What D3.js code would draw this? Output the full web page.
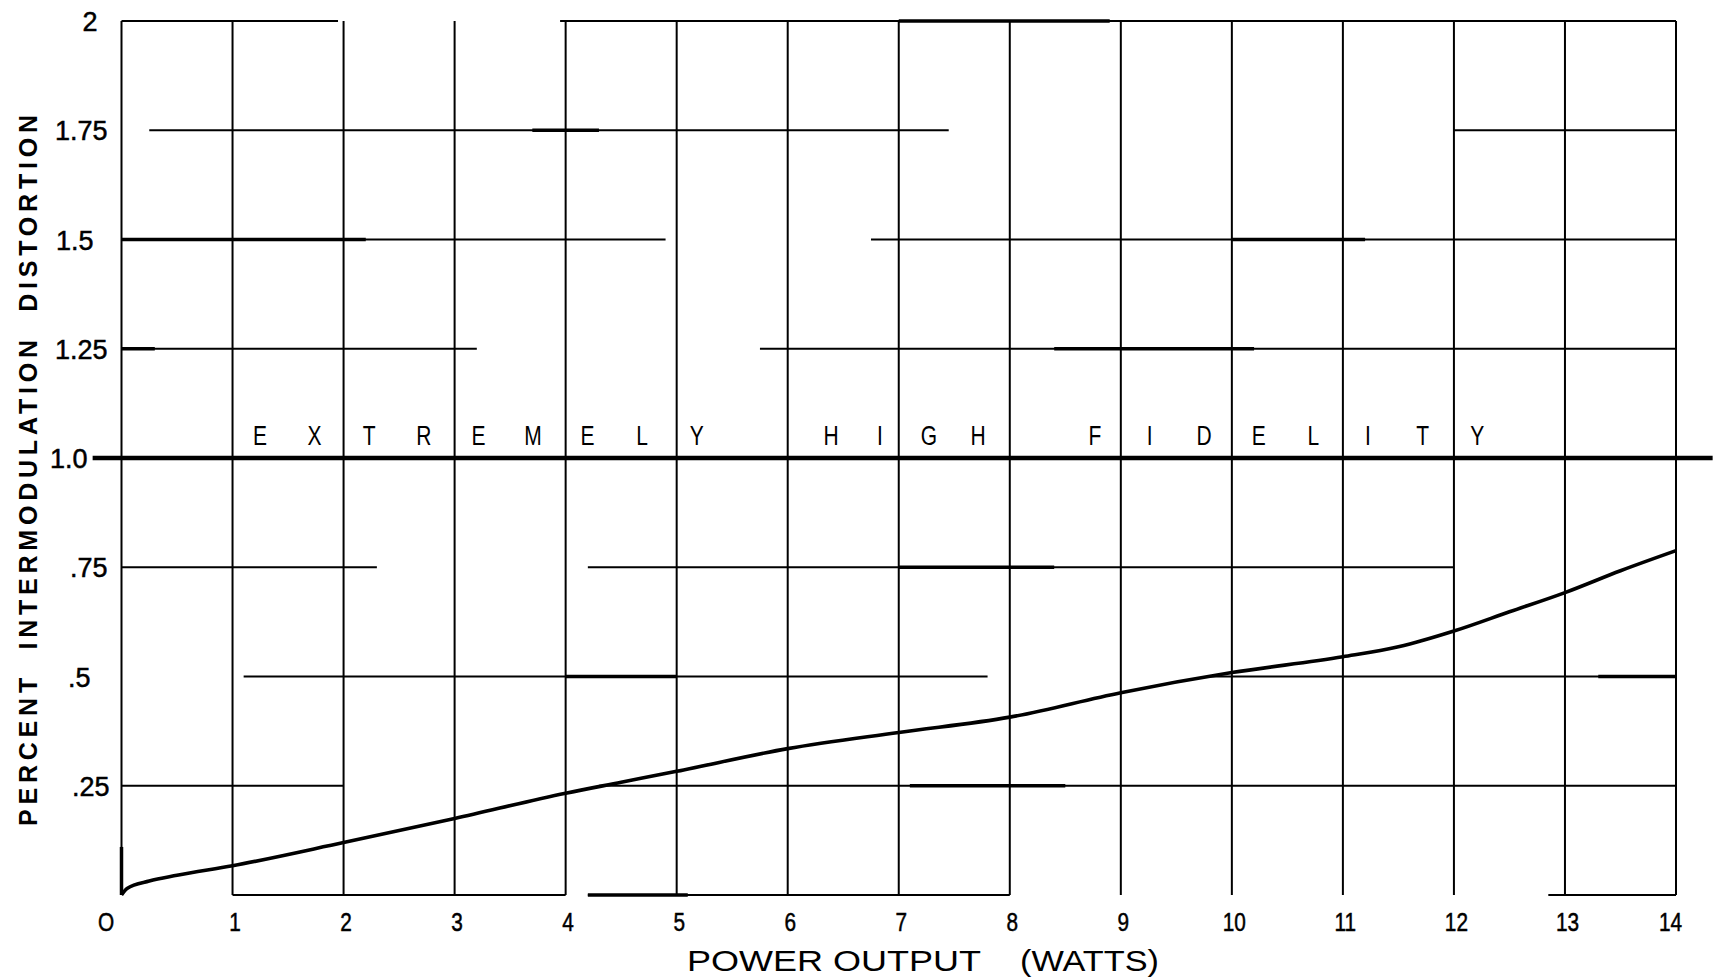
<!DOCTYPE html>
<html><head><meta charset="utf-8">
<script src="https://cdn.jsdelivr.net/npm/d3@7"></script>
<style>body{margin:0;background:#fff} svg{display:block}</style>
</head><body><svg id="c" width="1723" height="979"></svg>
<script>
// ---- data ----
const powerWatts = [0, 0.05, 0.25, 0.5, 1, 2, 3, 4, 4.5, 5, 6, 7, 8, 9, 10, 11, 11.5, 12, 12.5, 13, 13.5, 14];
const imdPercent = [0.0, 0.015, 0.032, 0.045, 0.067, 0.12, 0.175, 0.233, 0.258, 0.283, 0.335, 0.372, 0.407, 0.463, 0.509, 0.545, 0.568, 0.604, 0.648, 0.692, 0.742, 0.788];
const xTicks = [0,1,2,3,4,5,6,7,8,9,10,11,12,13,14];
const xTickLabels = ["O","1","2","3","4","5","6","7","8","9","10","11","12","13","14"];
const yTicks = [0.25, 0.5, 0.75, 1.0, 1.25, 1.5, 1.75, 2];
const yTickLabels = [".25", ".5", ".75", "1.0", "1.25", "1.5", "1.75", "2"];
const fidelityLimit = 1.0;
const bandWords = ["EXTREMELY", "HIGH", "FIDELITY"];
// horizontal grid rules as printed (value, from watts, to watts)
const gridValue = [2, 2, 1.75, 1.75, 1.5, 1.5, 1.25, 1.25, 0.75, 0.75, 0.5, 0.5, 0.25, 0.25, 0, 0, 0];
const gridFrom  = [0, 3.95, 0.25, 12.0, 0, 6.75, 0, 5.75, 0, 4.2, 1.1, 9.8, 0, 4.3, 1, 4.2, 12.85];
const gridTo    = [1.95, 14, 7.45, 14, 4.9, 14, 3.2, 14, 2.3, 12.0, 7.8, 14, 2.0, 14, 4, 8, 14];
// heavier-inked stretches of those rules
const heavyValue = [2, 1.75, 1.5, 1.5, 1.25, 1.25, 0.75, 0.5, 0.5, 0.25, 0];
const heavyFrom  = [7.0, 3.7, 0, 10.0, 0, 8.4, 7.0, 4.0, 13.3, 7.1, 4.2];
const heavyTo    = [8.9, 4.3, 2.2, 11.2, 0.3, 10.2, 8.4, 5.0, 14, 8.5, 5.1];
const xTitle = ["POWER OUTPUT", "(WATTS)"];
const yTitle = "PERCENT  INTERMODULATION  DISTORTION";

// ---- drawing ----
const svg = d3.select("#c");
const x = d3.scaleLinear().domain([0, 14]).range([121.5, 1676]);
const y = d3.scaleLinear().domain([0, 2]).range([895, 21]);
const ink = "#000";
const font = "'Liberation Sans', Arial, sans-serif";

// vertical grid lines
svg.append("g").selectAll("line").data(xTicks).join("line")
  .attr("x1", d => x(d)).attr("x2", d => x(d))
  .attr("y1", y(2)).attr("y2", y(0))
  .attr("stroke", ink).attr("stroke-width", 2);

// horizontal grid segments
svg.append("g").selectAll("line").data(gridValue.map((v, i) => ({v, a: gridFrom[i], b: gridTo[i]})))
  .join("line")
  .attr("x1", d => x(d.a)).attr("x2", d => x(d.b))
  .attr("y1", d => y(d.v)).attr("y2", d => y(d.v))
  .attr("stroke", ink).attr("stroke-width", 2);
svg.append("g").selectAll("line").data(heavyValue.map((v, i) => ({v, a: heavyFrom[i], b: heavyTo[i]})))
  .join("line")
  .attr("x1", d => x(d.a)).attr("x2", d => x(d.b))
  .attr("y1", d => y(d.v)).attr("y2", d => y(d.v))
  .attr("stroke", ink).attr("stroke-width", 3.6);

// heavy 1.0 limit line
svg.append("line")
  .attr("x1", x(-0.26)).attr("x2", x(14.33))
  .attr("y1", y(fidelityLimit)).attr("y2", y(fidelityLimit))
  .attr("stroke", ink).attr("stroke-width", 4.5);

// left axis a bit heavier near origin
svg.append("line").attr("x1", x(0)).attr("x2", x(0)).attr("y1", y(0)).attr("y2", y(0.11))
  .attr("stroke", ink).attr("stroke-width", 3.5);

// curve
const line = d3.line().x((d, i) => x(powerWatts[i])).y(d => y(d)).curve(d3.curveMonotoneX);
svg.append("path").datum(imdPercent).attr("d", line)
  .attr("fill", "none").attr("stroke", ink).attr("stroke-width", 3.6).attr("stroke-linejoin", "round");

// y axis labels
const yAx = svg.append("g").attr("transform", `translate(${x(0) - 14},0)`)
  .call(d3.axisLeft(y).tickValues(yTicks).tickSize(0).tickPadding(0)
    .tickFormat((d, i) => yTickLabels[i]));
yAx.select(".domain").remove();
const yShift = {"2": -10, "1.5": -14, ".5": -17, "1.0": -20, ".25": 2};
yAx.selectAll("text").attr("font-family", font).attr("font-size", 27).attr("fill", ink)
  .attr("stroke", ink).attr("stroke-width", 0.5)
  .attr("dy", "0.36em")
  .attr("x", (d, i) => yShift[yTickLabels[i]] || 0);

// x axis labels
const xAx = svg.append("g").attr("transform", `translate(0,${y(0)})`)
  .call(d3.axisBottom(x).tickValues(xTicks).tickSize(0).tickPadding(18)
    .tickFormat((d, i) => xTickLabels[i]));
xAx.select(".domain").remove();
xAx.selectAll("text").attr("font-family", font).attr("font-size", 26).attr("fill", ink)
  .attr("stroke", ink).attr("stroke-width", 0.5)
  .attr("transform", (d) => `translate(${d === 0 ? -16 : d === 14 ? -6 : 2},0) scale(0.8,1)`);

// band label
const wordStart = [260, 831, 1095], wordStep = [54.6, 49, 54.6];
bandWords.forEach((w, wi) => {
  w.split("").forEach((ch, ci) => {
    svg.append("text")
      .attr("transform", `translate(${wordStart[wi] + ci * wordStep[wi]},${y(fidelityLimit) - 13}) scale(0.75,1)`)
      .attr("text-anchor", "middle").attr("font-family", font).attr("font-size", 28).attr("fill", ink)
      .text(ch);
  });
});

// axis titles
svg.append("text").attr("x", 687).attr("y", 971).attr("font-family", font).attr("font-size", 29)
  .attr("textLength", 294).attr("lengthAdjust", "spacingAndGlyphs").attr("fill", ink).text(xTitle[0]);
svg.append("text").attr("x", 1020).attr("y", 971).attr("font-family", font).attr("font-size", 29)
  .attr("textLength", 139).attr("lengthAdjust", "spacingAndGlyphs").attr("fill", ink).text(xTitle[1]);
svg.append("text").attr("transform", "translate(37,826) rotate(-90)")
  .attr("font-family", font).attr("font-size", 25).attr("font-weight", "bold").attr("fill", ink)
  .attr("textLength", 711).attr("lengthAdjust", "spacing").attr("xml:space", "preserve").text(yTitle);
</script></body></html>
